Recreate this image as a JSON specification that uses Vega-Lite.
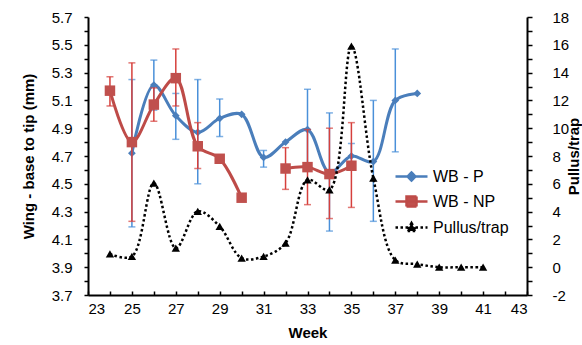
{
  "$schema": "https://vega.github.io/schema/vega-lite/v6.json",
  "width": 439,
  "height": 278,
  "autosize": "none",
  "padding": {"left": 88, "top": 17, "right": 55, "bottom": 50},
  "background": "white",
  "config": {
    "view": {"stroke": null},
    "axis": {
      "grid": false,
      "domainColor": "black",
      "domainWidth": 2,
      "tickColor": "black",
      "tickWidth": 1.5,
      "labelFont": "Liberation Sans",
      "labelFontSize": 15,
      "labelColor": "black",
      "titleFont": "Liberation Sans",
      "titleFontSize": 15,
      "titleFontWeight": "bold",
      "titleColor": "black"
    }
  },
  "datasets": {
    "wing": [
      {"series": "WB - P", "week": 25, "y": 4.72, "lo": 4.19, "hi": 5.25, "seg": 1},
      {"series": "WB - P", "week": 26, "y": 5.21, "lo": 5.03, "hi": 5.39, "seg": 1},
      {"series": "WB - P", "week": 27, "y": 4.99, "lo": 4.82, "hi": 5.15, "seg": 1},
      {"series": "WB - P", "week": 28, "y": 4.87, "lo": 4.50, "hi": 5.25, "seg": 1},
      {"series": "WB - P", "week": 29, "y": 4.97, "lo": 4.84, "hi": 5.11, "seg": 1},
      {"series": "WB - P", "week": 30, "y": 5.00, "lo": null, "hi": null, "seg": 1},
      {"series": "WB - P", "week": 31, "y": 4.69, "lo": 4.62, "hi": 4.74, "seg": 1},
      {"series": "WB - P", "week": 32, "y": 4.80, "lo": null, "hi": null, "seg": 1},
      {"series": "WB - P", "week": 33, "y": 4.89, "lo": 4.60, "hi": 5.18, "seg": 1},
      {"series": "WB - P", "week": 34, "y": 4.58, "lo": 4.16, "hi": 5.01, "seg": 1},
      {"series": "WB - P", "week": 35, "y": 4.70, "lo": 4.61, "hi": 4.79, "seg": 1},
      {"series": "WB - P", "week": 36, "y": 4.66, "lo": 4.23, "hi": 5.10, "seg": 1},
      {"series": "WB - P", "week": 37, "y": 5.10, "lo": 4.73, "hi": 5.47, "seg": 1},
      {"series": "WB - P", "week": 38, "y": 5.15, "lo": null, "hi": null, "seg": 1},
      {"series": "WB - NP", "week": 24, "y": 5.17, "lo": 5.06, "hi": 5.27, "seg": 1},
      {"series": "WB - NP", "week": 25, "y": 4.80, "lo": 4.23, "hi": 5.37, "seg": 1},
      {"series": "WB - NP", "week": 26, "y": 5.07, "lo": 4.95, "hi": 5.19, "seg": 1},
      {"series": "WB - NP", "week": 27, "y": 5.26, "lo": 5.06, "hi": 5.47, "seg": 1},
      {"series": "WB - NP", "week": 28, "y": 4.77, "lo": 4.61, "hi": 4.94, "seg": 1},
      {"series": "WB - NP", "week": 29, "y": 4.68, "lo": null, "hi": null, "seg": 1},
      {"series": "WB - NP", "week": 30, "y": 4.40, "lo": null, "hi": null, "seg": 1},
      {"series": "WB - NP", "week": 32, "y": 4.61, "lo": 4.46, "hi": 4.76, "seg": 2},
      {"series": "WB - NP", "week": 33, "y": 4.62, "lo": 4.35, "hi": 4.89, "seg": 2},
      {"series": "WB - NP", "week": 34, "y": 4.57, "lo": 4.25, "hi": 4.90, "seg": 2},
      {"series": "WB - NP", "week": 35, "y": 4.63, "lo": 4.33, "hi": 4.94, "seg": 2}
    ],
    "pullus": [
      {"week": 24, "v": 0.95}, {"week": 25, "v": 0.77}, {"week": 26, "v": 6.04},
      {"week": 27, "v": 1.37}, {"week": 28, "v": 4.02}, {"week": 29, "v": 2.93},
      {"week": 30, "v": 0.65}, {"week": 31, "v": 0.77}, {"week": 32, "v": 1.73},
      {"week": 33, "v": 6.28}, {"week": 34, "v": 5.56}, {"week": 35, "v": 15.9},
      {"week": 36, "v": 6.4}, {"week": 37, "v": 0.51}, {"week": 38, "v": 0.22},
      {"week": 39, "v": 0.0}, {"week": 40, "v": 0.0}, {"week": 41, "v": 0.0}
    ],
    "legend": [
      {"series": "WB - P"}, {"series": "WB - NP"}, {"series": "Pullus/trap"}
    ]
  },
  "layer": [
    {
      "data": {"name": "wing"},
      "encoding": {
        "x": {
          "field": "week", "type": "quantitative",
          "scale": {"domain": [23, 43], "nice": false, "zero": false},
          "axis": {
            "values": [23,24,25,26,27,28,29,30,31,32,33,34,35,36,37,38,39,40,41,42,43],
            "labelExpr": "datum.value % 2 == 1 ? datum.label : ''",
            "tickSize": -4, "labelPadding": 10, "title": "Week", "titlePadding": 9
          }
        },
        "y": {
          "field": "y", "type": "quantitative",
          "scale": {"domain": [3.7, 5.7], "nice": false, "zero": false},
          "title": "Wing - base to tip (mm)",
          "axis": {
            "orient": "left",
            "values": [3.7,3.8,3.9,4.0,4.1,4.2,4.3,4.4,4.5,4.6,4.7,4.8,4.9,5.0,5.1,5.2,5.3,5.4,5.5,5.6,5.7],
            "labelExpr": "round(datum.value*10) % 2 == 1 ? format(datum.value, '.1f') : ''",
            "tickSize": 4, "labelPadding": 12, "titlePadding": 15
          }
        }
      },
      "layer": [
        {
          "transform": [{"filter": "datum.series == 'WB - P' && isValid(datum.lo)"}],
          "mark": {"type": "rule", "color": "#4a90d9", "strokeWidth": 1.5},
          "encoding": {
            "y": {"field": "lo", "type": "quantitative", "title": "Wing - base to tip (mm)"},
            "y2": {"field": "hi"}
          }
        },
        {
          "transform": [
            {"filter": "datum.series == 'WB - P' && isValid(datum.lo)"},
            {"fold": ["lo", "hi"], "as": ["k", "cv"]}
          ],
          "mark": {"type": "tick", "orient": "horizontal", "color": "#4a90d9", "size": 7, "thickness": 1.5},
          "encoding": {
            "y": {"field": "cv", "type": "quantitative", "title": "Wing - base to tip (mm)"}
          }
        },
        {
          "transform": [{"filter": "datum.series == 'WB - P'"}],
          "mark": {"type": "line", "color": "#4a7ebb", "strokeWidth": 3, "interpolate": "catmull-rom"},
          "encoding": {}
        },
        {
          "transform": [{"filter": "datum.series == 'WB - P'"}],
          "mark": {"type": "point", "shape": "diamond", "filled": true, "color": "#4a7ebb", "size": 60, "opacity": 1},
          "encoding": {}
        },
        {
          "transform": [{"filter": "datum.series == 'WB - NP' && isValid(datum.lo)"}],
          "mark": {"type": "rule", "color": "#d6403c", "strokeWidth": 1.5},
          "encoding": {
            "y": {"field": "lo", "type": "quantitative", "title": "Wing - base to tip (mm)"},
            "y2": {"field": "hi"}
          }
        },
        {
          "transform": [
            {"filter": "datum.series == 'WB - NP' && isValid(datum.lo)"},
            {"fold": ["lo", "hi"], "as": ["k", "cv"]}
          ],
          "mark": {"type": "tick", "orient": "horizontal", "color": "#d6403c", "size": 7, "thickness": 1.5},
          "encoding": {
            "y": {"field": "cv", "type": "quantitative", "title": "Wing - base to tip (mm)"}
          }
        },
        {
          "transform": [{"filter": "datum.series == 'WB - NP'"}],
          "mark": {"type": "line", "color": "#be4b48", "strokeWidth": 3, "interpolate": "catmull-rom"},
          "encoding": {"detail": {"field": "seg", "type": "nominal"}}
        },
        {
          "transform": [{"filter": "datum.series == 'WB - NP'"}],
          "mark": {"type": "point", "shape": "square", "filled": true, "color": "#c0504d", "size": 110, "opacity": 1},
          "encoding": {}
        }
      ]
    },
    {
      "data": {"name": "pullus"},
      "encoding": {
        "x": {
          "field": "week", "type": "quantitative",
          "scale": {"domain": [23, 43], "nice": false, "zero": false},
          "axis": {
            "values": [23,24,25,26,27,28,29,30,31,32,33,34,35,36,37,38,39,40,41,42,43],
            "labelExpr": "datum.value % 2 == 1 ? datum.label : ''",
            "tickSize": -4, "labelPadding": 10, "title": "Week", "titlePadding": 9
          }
        },
        "y": {
          "field": "v", "type": "quantitative",
          "scale": {"domain": [-2, 18], "nice": false, "zero": false},
          "title": "Pullus/trap",
          "axis": {
            "orient": "right",
            "values": [-2,-1,0,1,2,3,4,5,6,7,8,9,10,11,12,13,14,15,16,17,18],
            "labelExpr": "datum.value % 2 == 0 ? toString(datum.value) : ''",
            "tickSize": 5, "labelPadding": 20, "titlePadding": -2,
            "titleAngle": 270, "titleBaseline": "top"
          }
        }
      },
      "layer": [
        {
          "mark": {"type": "line", "color": "black", "strokeWidth": 2.5, "strokeDash": [2.5, 2.5], "interpolate": "catmull-rom"},
          "encoding": {}
        },
        {
          "mark": {"type": "point", "shape": "triangle-up", "filled": true, "color": "black", "size": 70, "opacity": 1},
          "encoding": {}
        }
      ]
    },
    {
      "data": {"name": "legend"},
      "mark": {"type": "point", "filled": false, "opacity": 0, "strokeWidth": 2.5},
      "encoding": {
        "color": {
          "field": "series", "type": "nominal",
          "scale": {"domain": ["WB - P", "WB - NP", "Pullus/trap"], "range": ["#4a7ebb", "#be4b48", "black"]},
          "legend": {
            "orient": "none", "legendX": 312, "legendY": 148, "title": null,
            "labelFont": "Liberation Sans", "labelFontSize": 16, "labelColor": "black",
            "symbolSize": 400, "rowPadding": 4, "labelOffset": 10,
            "symbolOpacity": 1, "symbolStrokeWidth": 2.5
          }
        },
        "fill": {
          "field": "series", "type": "nominal",
          "scale": {"domain": ["WB - P", "WB - NP", "Pullus/trap"], "range": ["#4a7ebb", "#c0504d", "black"]}
        },
        "shape": {
          "field": "series", "type": "nominal",
          "scale": {
            "domain": ["WB - P", "WB - NP", "Pullus/trap"],
            "range": [
              "M-1.6,0H1.6M0,-0.4L0.4,0L0,0.4L-0.4,0Z",
              "M-1.6,0H1.6M-0.5,-0.5H0.5V0.5H-0.5Z",
              "M-1.6,0H1.6M0,-0.45L0.45,0.35H-0.45Z"
            ]
          }
        },
        "strokeDash": {
          "field": "series", "type": "nominal",
          "scale": {"domain": ["WB - P", "WB - NP", "Pullus/trap"], "range": [[1, 0], [1, 0], [2.5, 2.5]]}
        }
      }
    }
  ],
  "resolve": {"scale": {"y": "independent"}, "axis": {"y": "independent"}}
}
